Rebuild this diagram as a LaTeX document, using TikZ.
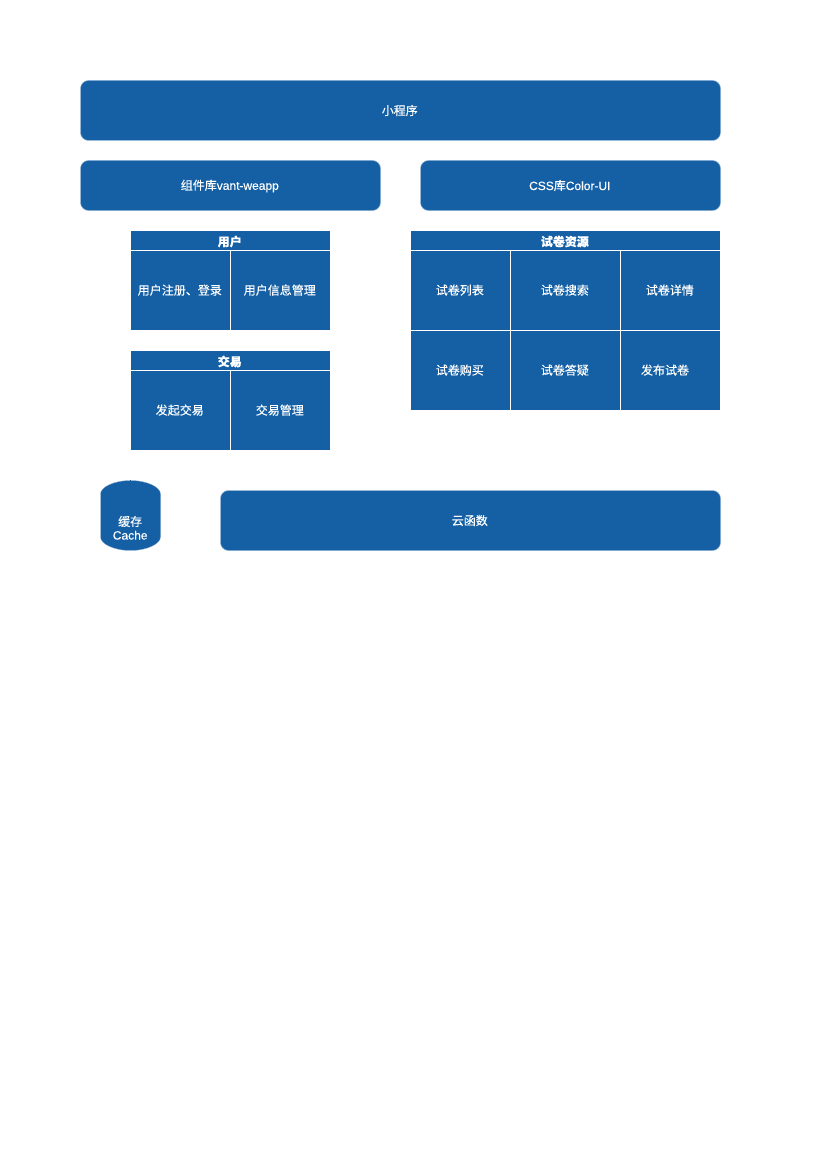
\documentclass[tikz,border=0pt]{standalone}
\usepackage{fontspec}
\usetikzlibrary{calc}
\setmainfont[FakeBold=0.25]{Liberation Sans}
\newfontfamily\cjk[FakeBold=0.25]{Noto Sans CJK SC}
\newfontfamily\cjkh[FakeBold=0.1]{Noto Sans CJK SC}
\definecolor{bluefill}{HTML}{1560A5}
\definecolor{softedge}{HTML}{8FB3D6}
\tikzset{
  panel/.style={rectangle,rounded corners=8pt,fill=bluefill,draw=softedge,line width=.5pt,inner sep=0pt},
  cell/.style={rectangle,fill=bluefill,draw=white,line width=1pt,inner sep=0pt},
  header/.style={cell},
  cachebody/.style={fill=bluefill,draw=softedge,line width=.3pt},
  cachetext/.style={text=white,inner sep=0pt,align=center,font=\fontsize{12}{13.5}\selectfont}
}
\newcommand{\boxat}[8]{\node[#1,minimum width=#4pt,minimum height=#5pt] (#6) at (#2,#3) {};
  \node[text=white,inner sep=0pt,font=\fontsize{12}{14}\selectfont] (#6t) at ($(#6)+(-.7,#7)$) {#8};}
\begin{document}
\begin{tikzpicture}[x=1pt,y=-1pt]
\useasboundingbox[fill=white] (0,0) rectangle (827,1169);
\boxat{panel}{400.5}{110.5}{640}{60}{app}{0}{\cjk 小程序}
\boxat{panel}{230.5}{185.5}{300}{50}{vant}{.5}{\cjk 组件库\rmfamily vant-weapp}
\boxat{panel}{570.5}{185.5}{300}{50}{color}{0}{CSS\cjk 库\rmfamily Color-UI}
\boxat{header}{230.5}{240.5}{200}{20}{uhead}{1}{\cjkh\bfseries 用户}
\boxat{cell}{180.5}{290.5}{100}{80}{u1}{-.4}{\cjk 用户注册、登录}
\boxat{cell}{280.5}{290.5}{100}{80}{u2}{-.4}{\cjk 用户信息管理}
\boxat{header}{230.5}{360.5}{200}{20}{thead}{1}{\cjkh\bfseries 交易}
\boxat{cell}{180.5}{410.5}{100}{80}{t1}{-.4}{\cjk 发起交易}
\boxat{cell}{280.5}{410.5}{100}{80}{t2}{-.4}{\cjk 交易管理}
\boxat{header}{565.5}{240.5}{310}{20}{phead}{1}{\cjkh\bfseries 试卷资源}
\boxat{cell}{460.5}{290.5}{100}{80}{p1}{-.4}{\cjk 试卷列表}
\boxat{cell}{565.5}{290.5}{110}{80}{p2}{-.4}{\cjk 试卷搜索}
\boxat{cell}{670.5}{290.5}{100}{80}{p3}{-.4}{\cjk 试卷详情}
\boxat{cell}{460.5}{370.5}{100}{80}{p4}{-.4}{\cjk 试卷购买}
\boxat{cell}{565.5}{370.5}{110}{80}{p5}{-.4}{\cjk 试卷答疑}
\node[cell,minimum width=100pt,minimum height=80pt] (p6) at (670.5,370.5) {};
\node[text=white,inner sep=0pt,font=\cjk\fontsize{12}{14}\selectfont] (p6t) at (665,370.1) {发布试卷};
\boxat{panel}{470.5}{520.5}{500}{60}{cloud}{0}{\cjk 云函数}
\draw[cachebody] (100.5,494) .. controls (100.5,487) and (114,480.5) .. (130.5,480.5)
  .. controls (147,480.5) and (160.5,487) .. (160.5,494) -- (160.5,537)
  .. controls (160.5,544) and (147,550.5) .. (130.5,550.5)
  .. controls (114,550.5) and (100.5,544) .. (100.5,537) -- cycle;
\coordinate (tickbase) at (130.5,481);
\coordinate (tickend) at (130.5,479.6);
\draw[bluefill,line width=.5pt] (tickbase) -- (tickend);
\node[cachetext] (cache) at (130.2,527.8) {{\cjk 缓存}\\Cache};
\end{tikzpicture}
\end{document}
